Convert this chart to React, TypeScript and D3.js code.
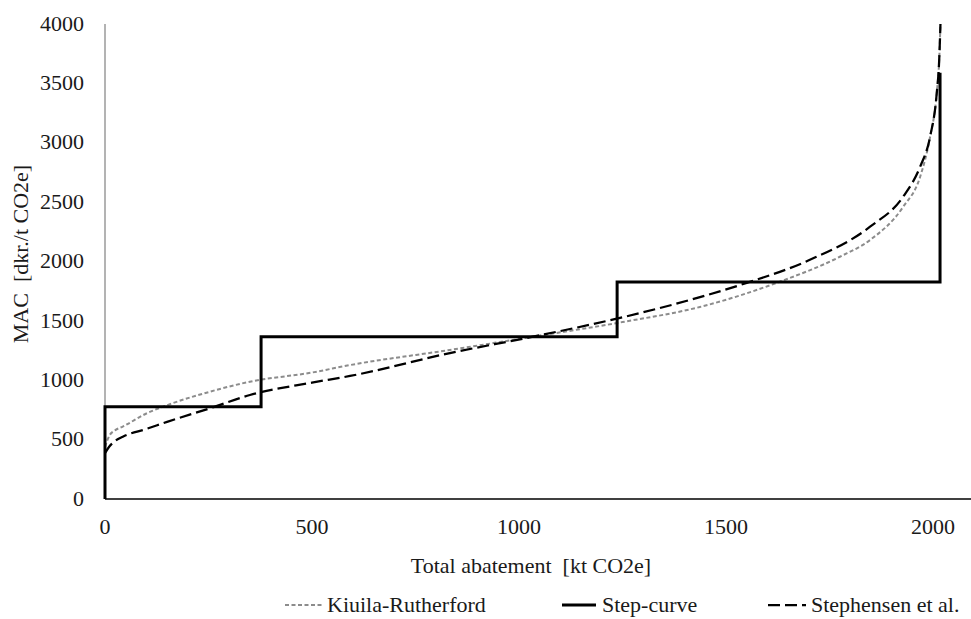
import * as d3 from 'd3';

// Kiuila-Rutherford curve [kt CO2e, dkr./t CO2e]
const kiuilaX = [0, 10, 25, 43, 100, 150, 250, 350, 500, 592, 833, 1034, 1250, 1437, 1630, 1775, 1848, 1928, 1969, 1993, 2009, 2015, 2018];
const kiuilaY = [440, 530, 580, 610, 720, 790, 900, 988, 1065, 1128, 1255, 1367, 1490, 1617, 1830, 2040, 2181, 2461, 2714, 3051, 3416, 3700, 4000];

// Stephensen et al. curve
const stephX = [0, 10, 25, 43, 100, 150, 250, 350, 500, 592, 833, 1034, 1250, 1437, 1550, 1700, 1848, 1928, 1969, 1993, 2009, 2015, 2018];
const stephY = [385, 440, 490, 525, 590, 650, 760, 876, 980, 1036, 1229, 1367, 1530, 1700, 1820, 2010, 2293, 2546, 2799, 3051, 3416, 3700, 4000];

// Step-curve
const stepEdges = [0, 377, 1237, 2017];
const stepValues = [777, 1367, 1828];
const stepTop = 3590;

const xTicks = [0, 500, 1000, 1500, 2000];
const yTicks = [0, 500, 1000, 1500, 2000, 2500, 3000, 3500, 4000];

const W = 971;
const H = 619;
const font = 'Liberation Serif';

// text is a bit wide in the original, so stretch horizontally
function Label({ x, y, anchor = 'start', rotate = 0, children }: any) {
  return (
    <text
      transform={`translate(${x},${y}) rotate(${rotate}) scale(1.1,1)`}
      textAnchor={anchor}
      dominantBaseline="central"
      fontSize={20}
      fill="#1a1a1a"
      style={{ fontFamily: font, whiteSpace: 'pre' }}
    >
      {children}
    </text>
  );
}

export default function App() {
  const x = d3.scaleLinear().domain([0, 2100]).range([105, 974.4]);
  const y = d3.scaleLinear().domain([0, 4000]).range([499, 24]);

  const line = d3.line<[number, number]>()
    .x(d => x(d[0]))
    .y(d => y(d[1]))
    .curve(d3.curveMonotoneX);

  const kiuila = kiuilaX.map((v, i) => [v, kiuilaY[i]] as [number, number]);
  const steph = stephX.map((v, i) => [v, stephY[i]] as [number, number]);

  // build the step path from edges and values
  const stepPts: [number, number][] = [[stepEdges[0], 0]];
  stepValues.forEach((v, i) => {
    stepPts.push([stepEdges[i], v]);
    stepPts.push([stepEdges[i + 1], v]);
  });
  stepPts.push([stepEdges[stepEdges.length - 1], stepTop]);
  const stepLine = d3.line<[number, number]>().x(d => x(d[0])).y(d => y(d[1]));

  return (
    <div style={{ position: 'absolute', left: 0, top: 0 }}>
      <svg width={W} height={H} style={{ display: 'block', background: '#fff' }}>
        {/* axes */}
        <line x1={x(0)} x2={W} y1={y(0)} y2={y(0)} stroke="#000" strokeWidth={1.5} />
        <line x1={x(0)} x2={x(0)} y1={y(0)} y2={y(4000)} stroke="#808080" strokeWidth={1.2} />

        {yTicks.map(t => (
          <Label key={t} x={84} y={y(t)} anchor="end">{t}</Label>
        ))}
        {xTicks.map(t => (
          <Label key={t} x={x(t)} y={527} anchor="middle">{t}</Label>
        ))}

        <Label x={531} y={566} anchor="middle">Total abatement  [kt CO2e]</Label>
        <Label x={21} y={254} anchor="middle" rotate={-90}>MAC  [dkr./t CO2e]</Label>

        {/* series */}
        <path d={line(kiuila) ?? ''} fill="none" stroke="#8c8c8c" strokeWidth={2} strokeDasharray="4,2.5" />
        <path d={stepLine(stepPts) ?? ''} fill="none" stroke="#000" strokeWidth={3} strokeLinejoin="miter" />
        <path d={line(steph) ?? ''} fill="none" stroke="#000" strokeWidth={2.25} strokeDasharray="12,5" />

        {/* legend */}
        <line x1={285} x2={322} y1={605} y2={605} stroke="#8c8c8c" strokeWidth={2} strokeDasharray="4,2.5" />
        <Label x={327} y={605}>Kiuila-Rutherford</Label>
        <line x1={562} x2={596} y1={605} y2={605} stroke="#000" strokeWidth={3} />
        <Label x={602} y={605}>Step-curve</Label>
        <line x1={768} x2={806} y1={605} y2={605} stroke="#000" strokeWidth={2.25} strokeDasharray="12,5" />
        <Label x={811} y={605}>Stephensen et al.</Label>
      </svg>
    </div>
  );
}
